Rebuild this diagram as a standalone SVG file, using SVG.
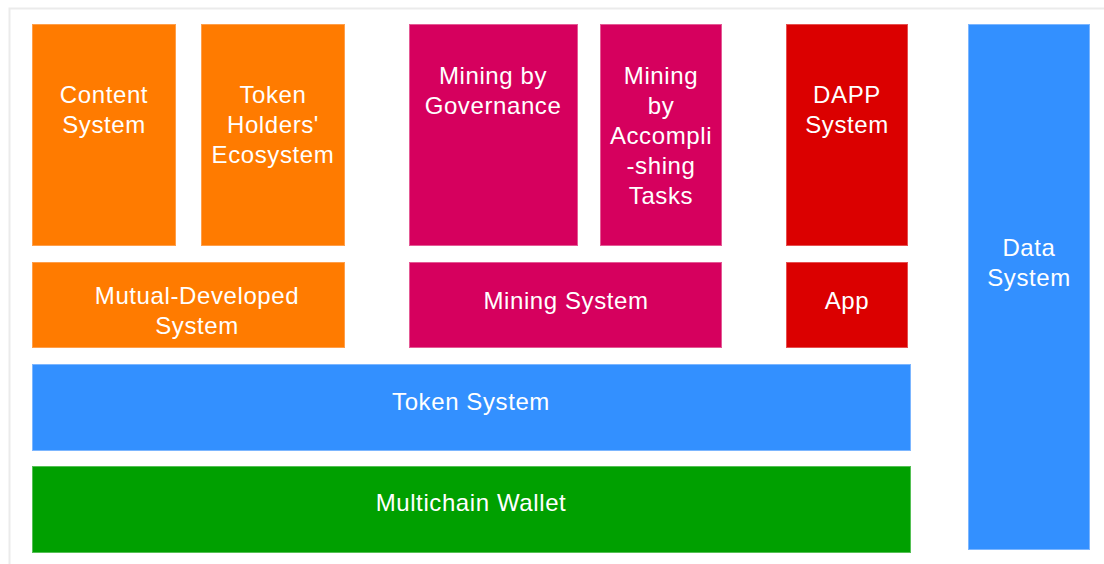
<svg xmlns="http://www.w3.org/2000/svg" width="1104" height="564" viewBox="0 0 1104 564">
  <style>
    .box { stroke-width: 1; }
    .orange { fill: #FF7B00; stroke: #FF9F4A; }
    .magenta { fill: #D6005E; stroke: #E45A95; }
    .red { fill: #DB0000; stroke: #E65050; }
    .blue { fill: #3390FF; stroke: #7CB6FF; }
    .green { fill: #00A000; stroke: #55C055; }
    .label { font-family: "Liberation Sans", Arial, sans-serif; font-size: 24px; letter-spacing: 0.6px; fill: #FFFFFF; text-anchor: middle; }
  </style>
  <rect x="0" y="0" width="1104" height="564" fill="#FFFFFF"/>
  <!-- outer frame -->
  <path d="M9.5 564 V8.5 H1104" fill="none" stroke="#EBEBEB" stroke-width="2"/>

  <g id="content-system">
    <rect class="box orange" x="32.5" y="24.5" width="143" height="221"/>
    <text class="label" x="104" y="103">Content</text>
    <text class="label" x="104" y="133">System</text>
  </g>
  <g id="token-holders-ecosystem">
    <rect class="box orange" x="201.5" y="24.5" width="143" height="221"/>
    <text class="label" x="273" y="103">Token</text>
    <text class="label" x="273" y="133">Holders'</text>
    <text class="label" x="273" y="163">Ecosystem</text>
  </g>
  <g id="mining-by-governance">
    <rect class="box magenta" x="409.5" y="24.5" width="168" height="221"/>
    <text class="label" x="493" y="84">Mining by</text>
    <text class="label" x="493" y="114">Governance</text>
  </g>
  <g id="mining-by-tasks">
    <rect class="box magenta" x="600.5" y="24.5" width="121" height="221"/>
    <text class="label" x="661" y="84">Mining</text>
    <text class="label" x="661" y="114">by</text>
    <text class="label" x="661" y="144">Accompli</text>
    <text class="label" x="661" y="174">-shing</text>
    <text class="label" x="661" y="204">Tasks</text>
  </g>
  <g id="dapp-system">
    <rect class="box red" x="786.5" y="24.5" width="121" height="221"/>
    <text class="label" x="847" y="103">DAPP</text>
    <text class="label" x="847" y="133">System</text>
  </g>
  <g id="data-system">
    <rect class="box blue" x="968.5" y="24.5" width="121" height="525"/>
    <text class="label" x="1029" y="256">Data</text>
    <text class="label" x="1029" y="286">System</text>
  </g>
  <g id="mutual-developed-system">
    <rect class="box orange" x="32.5" y="262.5" width="312" height="85"/>
    <text class="label" x="197" y="304">Mutual-Developed</text>
    <text class="label" x="197" y="334">System</text>
  </g>
  <g id="mining-system">
    <rect class="box magenta" x="409.5" y="262.5" width="312" height="85"/>
    <text class="label" x="566" y="309">Mining System</text>
  </g>
  <g id="app">
    <rect class="box red" x="786.5" y="262.5" width="121" height="85"/>
    <text class="label" x="847" y="309">App</text>
  </g>
  <g id="token-system">
    <rect class="box blue" x="32.5" y="364.5" width="878" height="86"/>
    <text class="label" x="471" y="410">Token System</text>
  </g>
  <g id="multichain-wallet">
    <rect class="box green" x="32.5" y="466.5" width="878" height="86"/>
    <text class="label" x="471" y="511">Multichain Wallet</text>
  </g>
  <g id="connectors"></g>
</svg>
